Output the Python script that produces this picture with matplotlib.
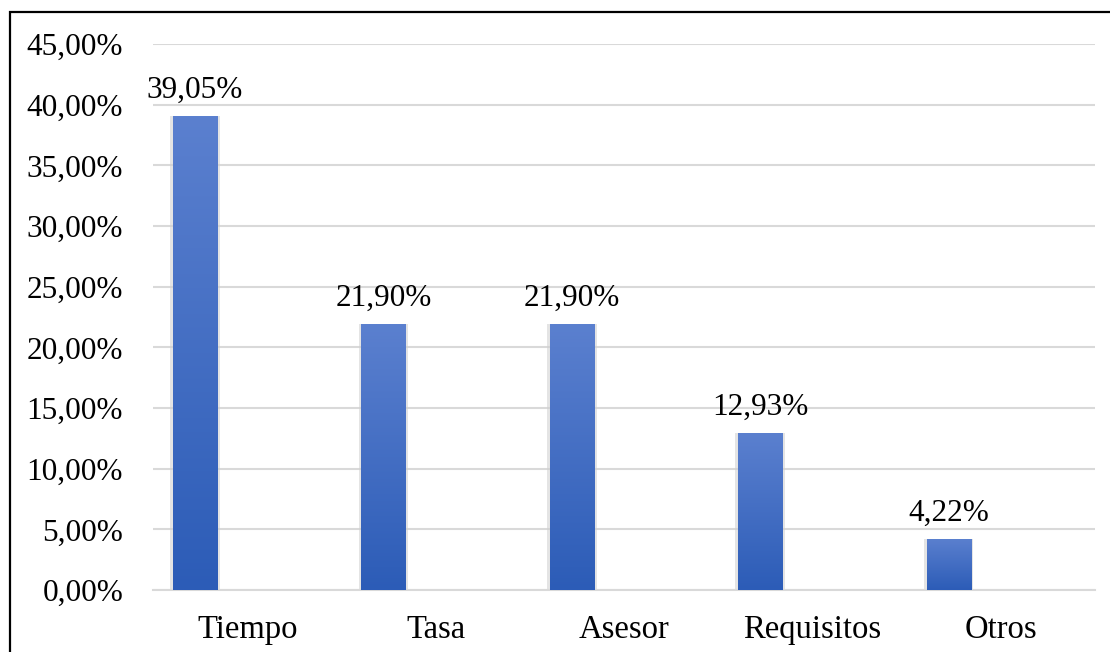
import matplotlib
matplotlib.use("Agg")
import matplotlib.pyplot as plt
import matplotlib.ticker as mtick
from matplotlib.patches import Rectangle
import numpy as np

categories = ["Tiempo", "Tasa", "Asesor", "Requisitos", "Otros"]
values = [39.05, 21.90, 21.90, 12.93, 4.22]

plt.rcParams['font.family'] = ['Liberation Serif', 'DejaVu Serif']
fs = 22.5

fig = plt.figure(figsize=(11.1, 6.52), dpi=100)
ax = fig.add_axes([153 / 1110, 1 - 590 / 652, (1095 - 153) / 1110, (590 - 44) / 652])

x = np.arange(len(categories))
offset = -0.277
width = 0.234

# shadow behind bars
ax.bar(x + offset, values, width=width + 0.03, color="#CFCFCF", alpha=0.55, zorder=2)
bars = ax.bar(x + offset, values, width=width, color="none", zorder=3)

grad = np.linspace(0, 1, 256).reshape(-1, 1)
cmap = matplotlib.colors.LinearSegmentedColormap.from_list("g", ["#2C5CB7", "#5B80CF"])
for b in bars:
    x0, y0 = b.get_x(), b.get_y()
    w, h = b.get_width(), b.get_height()
    im = ax.imshow(grad, extent=[x0, x0 + w, y0, y0 + h], origin="lower",
                   aspect="auto", cmap=cmap, zorder=3)
    im.set_clip_path(b)

for xi, v in zip(x, values):
    ax.annotate(f"{v:.2f}%".replace(".", ","), (xi + offset, v), xytext=(0, 8),
                textcoords="offset points", ha="center", va="bottom", fontsize=fs)

ax.set_xlim(-0.5, len(categories) - 0.5)
ax.set_ylim(0, 45)
ax.set_yticks(np.arange(0, 46, 5))
ax.yaxis.set_major_formatter(mtick.FuncFormatter(lambda v, p: f"{v:.2f}%".replace(".", ",")))
ax.set_xticks(x)
ax.set_xticklabels(categories)
ax.tick_params(axis="both", length=0)
ax.tick_params(axis="y", pad=21.5, labelsize=fs)
ax.tick_params(axis="x", pad=17.5, labelsize=23.5)
ax.grid(axis="y", color="#D9D9D9", linewidth=1.5, zorder=0)
ax.set_axisbelow(True)
for s in ["top", "right", "left"]:
    ax.spines[s].set_visible(False)
ax.spines["bottom"].set_color("#D9D9D9")
ax.spines["bottom"].set_linewidth(1.5)

fig.patches.append(Rectangle((10 / 1110, -0.1), 1.1, 1.1 - 12 / 652, transform=fig.transFigure,
                             fill=False, edgecolor="black", linewidth=1.6))

fig.savefig("out.png", dpi=100)
